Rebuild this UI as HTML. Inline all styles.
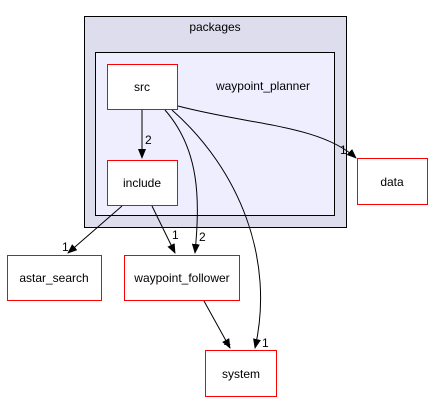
<!DOCTYPE html>
<html><head><meta charset="utf-8"><style>body{margin:0;background:#fff}svg{display:block}text{font-family:"Liberation Sans",sans-serif;font-size:12px}</style></head><body>
<svg width="434" height="404" viewBox="0 0 434 404" xmlns="http://www.w3.org/2000/svg">
<defs><marker id="a" markerWidth="10" markerHeight="8" refX="9" refY="4" orient="auto" markerUnits="userSpaceOnUse"><path d="M0,0 L10,4 L0,8 z" fill="#000"/></marker></defs>
<rect x="84.5" y="16.5" width="262" height="211" fill="#ddddee" stroke="#000"/>
<text x="215" y="31" text-anchor="middle">packages</text>
<rect x="95.5" y="52.5" width="239" height="163" fill="#eeeeff" stroke="#000"/>
<text x="263" y="90" text-anchor="middle">waypoint_planner</text>
<rect x="107.5" y="64.5" width="70" height="45" fill="#fff" stroke="red"/>
<text x="142" y="91" text-anchor="middle">src</text>
<rect x="107.5" y="160.5" width="70" height="45" fill="#fff" stroke="red"/>
<text x="142" y="187" text-anchor="middle">include</text>
<rect x="357.5" y="158.5" width="70" height="46" fill="#fff" stroke="red"/>
<text x="392" y="186" text-anchor="middle">data</text>
<rect x="7.5" y="255.5" width="94" height="45" fill="#fff" stroke="red"/>
<text x="54" y="282" text-anchor="middle">astar_search</text>
<rect x="124.5" y="255.5" width="115" height="45" fill="#fff" stroke="red"/>
<text x="182" y="282" text-anchor="middle">waypoint_follower</text>
<rect x="205.5" y="350.5" width="71" height="46" fill="#fff" stroke="red"/>
<text x="241" y="378" text-anchor="middle">system</text>
<g fill="none" stroke="#000">
<path d="M142,110 L142,158" marker-end="url(#a)"/>
<path d="M178,106 C250,125 320,125 356,158" marker-end="url(#a)"/>
<path d="M165,110 C200,150 200,200 195,253" marker-end="url(#a)"/>
<path d="M172,110 C240,170 275,260 255,348" marker-end="url(#a)"/>
<path d="M122,206 L68,253" marker-end="url(#a)"/>
<path d="M152,206 L175,253" marker-end="url(#a)"/>
<path d="M204,301 L230,348" marker-end="url(#a)"/>
</g>
<text x="145" y="144">2</text>
<text x="340" y="154">1</text>
<text x="199" y="241">2</text>
<text x="262" y="347">1</text>
<text x="62" y="251">1</text>
<text x="172" y="239">1</text>
<text x="224" y="347">4</text>
</svg>
</body></html>
